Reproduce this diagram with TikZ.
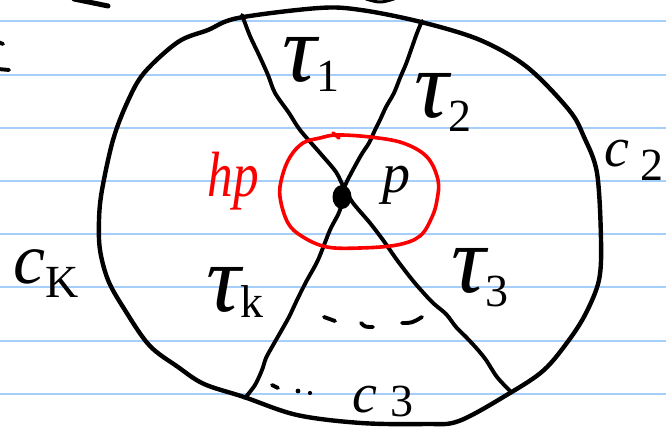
\documentclass[tikz,border=0pt]{standalone}
\usepackage{fontspec}
\setmainfont{Liberation Serif}
\usetikzlibrary{shapes.geometric}
\definecolor{ruleblue}{RGB}{166,206,250}
\definecolor{inkred}{RGB}{250,0,0}
\tikzset{
  ink/.style={line width=3.9pt, line cap=round, line join=round, black},
  rim/.style={ink, line width=4.4pt},
  loopink/.style={line width=3.6pt, inkred, line cap=round, line join=round},
  rulerow/.style={line width=2pt, ruleblue},
  lbl/.style={inner sep=0pt, outer sep=0pt},
}
\newcommand\Tau{{\fontsize{96}{96}\selectfont\itshape τ}}
\newcommand\Sub[2][-12pt]{\raisebox{#1}{\fontsize{46}{46}\selectfont #2}}
\newcommand\Cee[1][56]{{\fontsize{#1}{#1}\selectfont\itshape c}}
\begin{document}
\begin{tikzpicture}[x=1pt,y=-1pt]
\useasboundingbox (0,0) rectangle (666,427);
\fill[white] (0,0) rectangle (666,427);
\foreach \i in {0,...,7} \draw[rulerow] (0,{21.5+53.2*\i}) -- (666,{21.5+53.2*\i});

% outer curve
\draw[rim] plot[smooth cycle, tension=0.55] coordinates {(319,8) (361,10) (421,22) (480,40) (527,67) (569,110) (584,137) (597,173) (601,240) (599,280) (586,313) (569,340) (544,370) (510,393) (459,421) (425,424) (361,423) (297,415) (244,397) (204,384) (178,367) (149,345) (123,307) (108,280) (100,250) (99,220) (102,190) (113,140) (127,103) (144,73) (178,42) (208,30) (238,18)};

% spokes
\coordinate (P) at (344,188);
\coordinate (e1) at (242,15);
\coordinate (e2) at (422,21);
\coordinate (e3) at (510,391);
\coordinate (ek) at (245,398);
\draw[ink] plot[smooth, tension=0.5] coordinates {(e1) (250,36) (259,55) (268,75) (275,93) (289,113) (300,130) (320,153) (336,172) (P) (353,203) (370,223) (383,240) (397,260) (414,282) (432,302) (446,314) (456,327) (467,338) (478,350) (486,360) (497,377) (e3)};
\draw[ink] plot[smooth, tension=0.5] coordinates {(e2) (417,33) (411,50) (406,64) (400,78) (394,93) (386,107) (380,120) (375,130) (369,143) (360,157) (P) (340,210) (330,230) (318,260) (306,282) (297,300) (289,317) (280,333) (272,347) (266,358) (262,370) (255,385) (ek)};

% red loop
\draw[loopink] plot[smooth cycle, tension=0.6] coordinates {(337,135) (370,137) (403,143) (427,157) (438,180) (437,200) (432,217) (420,236) (397,245) (360,248) (327,247) (303,237) (288,223) (280,197) (282,177) (290,157) (303,143) (320,138)};
\draw[loopink] (333,133) -- (339,138);

% point p
\node[ellipse, fill=black, minimum width=19pt, minimum height=24pt, inner sep=0pt] (dot) at (342,197) {};

% labels
\node[lbl] (t1) at (311,64) {\Tau\Sub[-10pt]{1}};
\node[lbl] (t2) at (443,102) {\Tau\Sub[-14pt]{2}};
\node[lbl] (t3) at (480,278) {\Tau\Sub[-14pt]{3}};
\node[lbl] (tk) at (235,292) {\Tau\Sub[-6pt]{k}};
\node[lbl, text=inkred] (hp) at (233,181) {\scalebox{0.8}[1]{\fontsize{64}{64}\selectfont\itshape hp}};
\node[lbl] (p) at (396,185) {\fontsize{56}{56}\selectfont\itshape p};
\node[lbl, anchor=west] (c2) at (604,160) {\Cee\hspace{12pt}\Sub[-14pt]{2}};
\node[lbl, anchor=west] (c3) at (352,401) {\Cee\hspace{14pt}\Sub[-4pt]{3}};
\node[lbl] (ck) at (46,274) {\Cee[72]\Sub[-14pt]{K}};

% handwritten dots
\draw[ink] (324,317) -- (335,321);
\draw[ink] (361,323) .. controls (365,327) .. (373,327);
\draw[ink] (402,323) .. controls (412,323) .. (422,317);
\draw[ink] (272,385) -- (278,388);
\fill (298,391) circle (2.4pt);
\fill (310,393) circle (2.1pt);

% fragments cut by the edge
\draw[ink, line width=5pt] (74,-1) -- (108,6);
\draw[ink] (-2,42) -- (3,44);
\draw[ink] (-2,69) -- (9,70);
\draw[ink, line width=3pt] (366,-1) .. controls (380,3) .. (394,-1);
\end{tikzpicture}
\end{document}
